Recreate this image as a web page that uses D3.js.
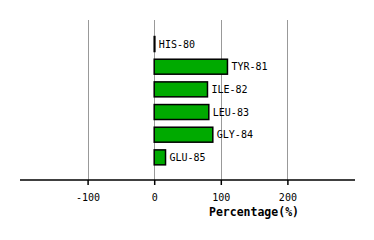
<!DOCTYPE html>
<html>
<head>
<meta charset="utf-8">
<script src="https://cdn.jsdelivr.net/npm/d3@7"></script>
<style>
	body { margin: 0; background: #fff; }
	text { font-family: 'DejaVu Sans Mono', monospace; }
</style>
</head>
<body>
<script>
// residues and their percentage values
var residues = ['HIS-80', 'TYR-81', 'ILE-82', 'LEU-83', 'GLY-84', 'GLU-85'];
var percents = [1, 110, 80, 82, 88, 17];
var tickValues = [-100, 0, 100, 200];

var WIDTH = 374, HEIGHT = 240;
var AXIS_Y = 180, TOP = 20;

var svg = d3.select('body').append('svg')
	.attr('width', WIDTH)
	.attr('height', HEIGHT);

var x = d3.scaleLinear().domain([-200, 300]).range([21, 354]);
var y = d3.scaleBand().domain(residues).range([32.7, 168.7])
	.paddingInner(0.34).paddingOuter(0.17);

// grid lines
svg.selectAll('.grid')
	.data(tickValues)
	.enter().append('line')
	.attr('x1', function(d) { return Math.round(x(d)) + 0.5; })
	.attr('x2', function(d) { return Math.round(x(d)) + 0.5; })
	.attr('y1', TOP)
	.attr('y2', AXIS_Y)
	.attr('stroke', '#999')
	.attr('stroke-width', 1);

// bars
var data = residues.map(function(r, i) { return { name: r, value: percents[i] }; });

svg.selectAll('rect')
	.data(data)
	.enter().append('rect')
	.attr('x', x(0))
	.attr('y', function(d) { return y(d.name); })
	.attr('width', function(d) { return x(d.value) - x(0); })
	.attr('height', y.bandwidth())
	.attr('fill', '#00aa00')
	.attr('stroke', '#000')
	.attr('stroke-width', 1.5);

svg.selectAll('.lbl')
	.data(data)
	.enter().append('text')
	.attr('x', function(d) { return x(d.value) + 4; })
	.attr('y', function(d) { return y(d.name) + y.bandwidth() / 2; })
	.attr('dy', '0.35em')
	.style('font-size', '10px')
	.attr('fill', '#000')
	.text(function(d) { return d.name; });

// x axis
var axis = d3.axisBottom(x).tickValues(tickValues).tickSize(5).tickPadding(9);
var g = svg.append('g')
	.attr('transform', 'translate(0,' + AXIS_Y + ')')
	.call(axis);
g.select('.domain').attr('stroke', '#000').attr('stroke-width', 1.5).attr('d', 'M20,0H355');
g.selectAll('.tick line').attr('stroke', '#000').attr('stroke-width', 1.5);
g.selectAll('.tick text')
	.style('font-family', "'DejaVu Sans Mono', monospace")
	.style('font-size', '10px')
	.attr('fill', '#000')
	.text(function(d) { return d === 0 ? '0' : d3.format('d')(d).replace('\u2212', '-'); });

svg.append('text')
	.attr('x', 254)
	.attr('y', 216)
	.attr('text-anchor', 'middle')
	.style('font-size', '11.5px')
	.style('font-weight', 'bold')
	.text('Percentage(%)');
</script>
</body>
</html>
